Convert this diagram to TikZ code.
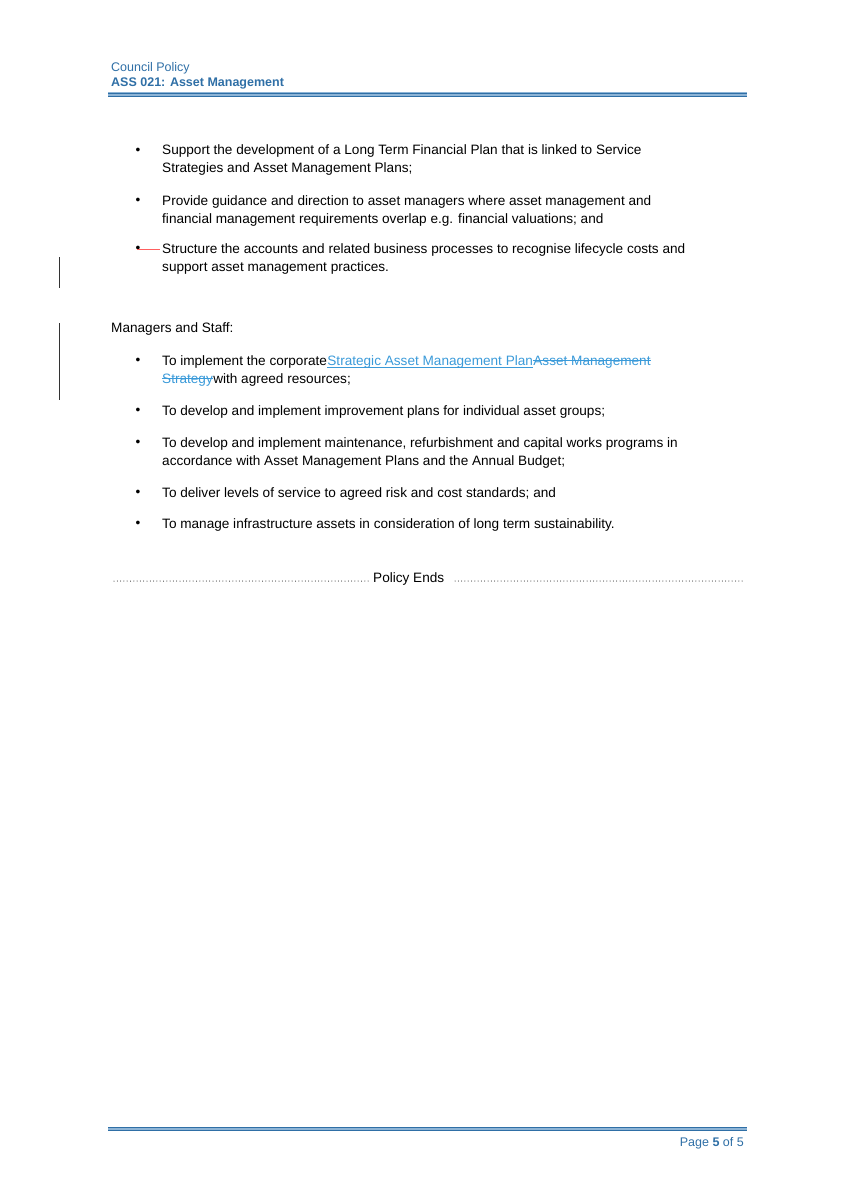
\documentclass[tikz,border=0pt]{standalone}
\usepackage{fontspec}
\setmainfont{Liberation Sans}
\definecolor{hdr}{HTML}{2F6FA6}
\definecolor{hdrl}{HTML}{8DB4D6}
\definecolor{lnk}{HTML}{3A9AD9}
\begin{document}
\begin{tikzpicture}[x=1pt,y=-1pt,
  txt/.style={anchor=base west,inner sep=0pt,font=\fontsize{13.6}{16}\selectfont},
  bul/.style={anchor=center,inner sep=0pt,font=\fontsize{13.6}{16}\selectfont},
  chg/.style={line width=0.8pt,black!80}]
\useasboundingbox (0,0) rectangle (844,1193);
% header
\node[anchor=base west,inner sep=0pt,text=hdr,font=\fontsize{12.5}{14}\selectfont] (h1) at (111,72) {Council Policy};
\node[anchor=base west,inner sep=0pt,text=hdr,font=\fontsize{12.5}{14}\selectfont\bfseries] (h2) at (111,87) {ASS 021: Asset Management};
\fill[hdrl] (108,92.5) rectangle (747,96.5);
\draw[hdr,line width=0.9pt] (108,93) -- (747,93);
\draw[hdr,line width=0.9pt] (108,96) -- (747,96);
% body
\foreach \y in {155,205,253,365,415,447,497,528} \node[bul] at (138,\y-4) {•};
\node[txt] (l1) at (162,155) {Support the development of a Long Term Financial Plan that is linked to Service};
\node[txt] (l2) at (162,173) {Strategies and Asset Management Plans;};
\node[txt] (l3) at (162,205) {Provide guidance and direction to asset managers where asset management and};
\node[txt] (l4) at (162,223) {financial management requirements overlap e.g. financial valuations; and};
\draw[red!50!pink,line width=0.8pt] (137,249) -- (160,249);
\node[txt] (l5) at (162,253) {Structure the accounts and related business processes to recognise lifecycle costs and};
\node[txt] (l6) at (162,271) {support asset management practices.};
\node[txt] (m0) at (111,332) {Managers and Staff:};
\node[txt] (l7) at (162,365) {To implement the corporate };
\node[txt,text=lnk] (l7a) at (l7.base east) {Strategic Asset Management Plan };
\draw[lnk,line width=0.7pt] ([yshift=-2pt]l7a.base west) -- ([yshift=-2pt]l7a.base east);
\node[txt,text=lnk] (l7b) at (l7a.base east) {Asset Management};
\draw[lnk,line width=0.7pt] ([yshift=4.5pt]l7b.base west) -- ([yshift=4.5pt]l7b.base east);
\node[txt,text=lnk] (l8a) at (162,383) {Strategy };
\draw[lnk,line width=0.7pt] ([yshift=4.5pt]l8a.base west) -- ([yshift=4.5pt]l8a.base east);
\node[txt] (l8) at (l8a.base east) {with agreed resources;};
\node[txt] (l9) at (162,415) {To develop and implement improvement plans for individual asset groups;};
\node[txt] (l10) at (162,447) {To develop and implement maintenance, refurbishment and capital works programs in};
\node[txt] (l11) at (162,465) {accordance with Asset Management Plans and the Annual Budget;};
\node[txt] (l12) at (162,497) {To deliver levels of service to agreed risk and cost standards; and};
\node[txt] (l13) at (162,528) {To manage infrastructure assets in consideration of long term sustainability.};
\draw[chg] (59,257) -- (59,288);
\draw[chg] (59,323) -- (59,400);
% policy ends
\node[txt] (pe) at (373,582) {Policy Ends};
\draw[line width=1pt,line cap=round,dash pattern=on 0pt off 3.3pt] (114,581) -- (369,581);
\draw[line width=1pt,line cap=round,dash pattern=on 0pt off 3.3pt] (455,581) -- (743,581);
% footer
\fill[hdrl] (108,1126.5) rectangle (747,1130.5);
\draw[hdr,line width=0.9pt] (108,1127) -- (747,1127);
\draw[hdr,line width=0.9pt] (108,1130) -- (747,1130);
\node[anchor=base east,inner sep=0pt,text=hdr,font=\fontsize{12.5}{14}\selectfont] (pg) at (744,1146) {Page \textbf{5} of 5};
\end{tikzpicture}
\end{document}
